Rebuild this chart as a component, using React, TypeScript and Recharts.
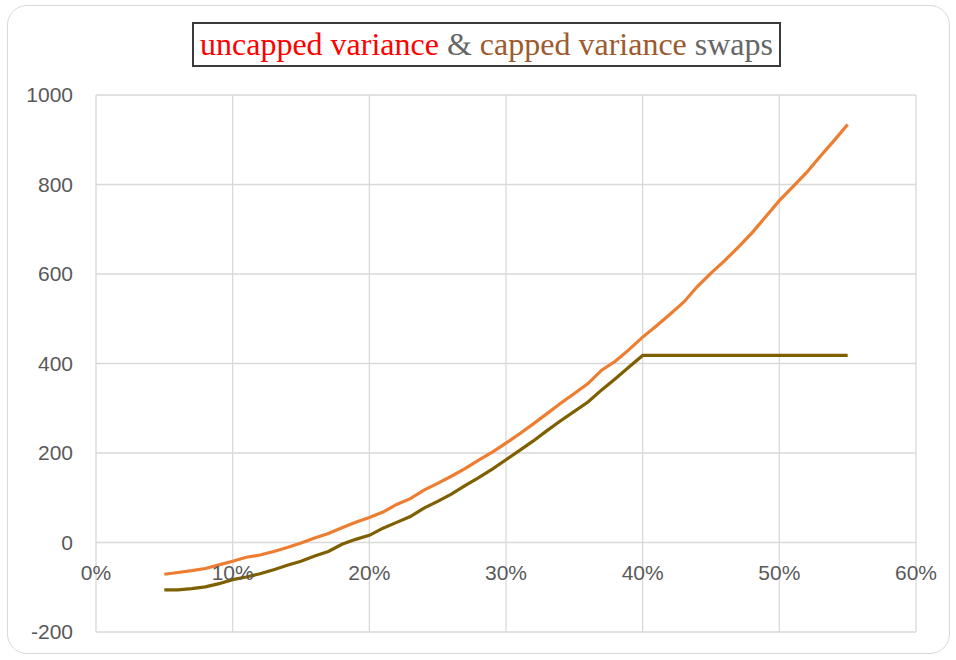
import React from 'react';
import { LineChart, Line, XAxis, YAxis, CartesianGrid, ReferenceDot } from 'recharts';

const volatility = [5, 6, 7, 8, 9, 10, 11, 12, 13, 14, 15, 16, 17, 18, 19, 20, 21, 22, 23, 24, 25, 26, 27, 28, 29, 30, 31, 32, 33, 34, 35, 36, 37, 38, 39, 40, 41, 42, 43, 44, 45, 46, 47, 48, 49, 50, 51, 52, 53, 54, 55];

const uncappedVariance = [-71, -67, -63, -58, -50, -42, -33, -28, -20, -11, -1, 10, 20, 33, 45, 56, 68, 85, 98, 117, 132, 148, 165, 184, 202, 222, 243, 265, 288, 311, 333, 355, 385, 405, 431, 459, 484, 510, 537, 572, 602, 630, 660, 692, 728, 764, 795, 827, 863, 898, 934];

const cappedVariance = [-106, -106, -103, -99, -92, -83, -77, -70, -61, -51, -42, -30, -20, -4, 7, 16, 32, 45, 58, 77, 92, 108, 127, 145, 164, 185, 206, 227, 250, 272, 293, 314, 341, 366, 392, 418, 418, 418, 418, 418, 418, 418, 418, 418, 418, 418, 418, 418, 418, 418, 418];

const xTicks = [0, 10, 20, 30, 40, 50, 60];
const yTicks = [-200, 0, 200, 400, 600, 800, 1000];
const X_MIN = 0;
const X_MAX = 60;

const data = volatility.map((v, i) => ({
  vol: v,
  uncapped: uncappedVariance[i],
  capped: cappedVariance[i],
}));

const AXIS_COLOR = '#595959';

const verticalGen = (props: any) => {
  const off = props.offset;
  return xTicks.map((t) => off.left + (off.width * (t - X_MIN)) / (X_MAX - X_MIN));
};

export default function App() {
  return (
    <div style={{ position: 'absolute', left: 0, top: 0, width: 956, height: 660, background: '#fff' }}>
      <div
        style={{
          position: 'absolute',
          left: 7,
          top: 5,
          width: 943,
          height: 649,
          border: '1.5px solid #d9d9d9',
          borderRadius: 20,
          boxSizing: 'border-box',
        }}
      />
      <div style={{ position: 'absolute', left: 0, top: 0 }}>
        <LineChart width={956} height={660} data={data} margin={{ top: 95, right: 40, bottom: 27, left: 0 }}>
          <CartesianGrid stroke="#d9d9d9" strokeWidth={1.3} verticalCoordinatesGenerator={verticalGen} />
          <XAxis
            dataKey="vol"
            type="number"
            domain={[X_MIN, X_MAX]}
            ticks={xTicks}
            axisLine={false}
            tickLine={false}
            tick={false}
            height={1}
          />
          <YAxis
            type="number"
            domain={[-200, 1000]}
            ticks={yTicks}
            width={96}
            axisLine={false}
            tickLine={false}
            tickSize={0}
            tickMargin={23}
            tick={{ fill: AXIS_COLOR, fontSize: 21, fontFamily: 'Liberation Sans, Arial, sans-serif' }}
          />
          <Line
            type="linear"
            dataKey="uncapped"
            stroke="#ed7d31"
            strokeWidth={3.2}
            dot={false}
            isAnimationActive={false}
          />
          <Line
            type="linear"
            dataKey="capped"
            stroke="#7f6000"
            strokeWidth={3.2}
            dot={false}
            isAnimationActive={false}
          />
          {xTicks.map((t) => (
            <ReferenceDot
              key={t}
              x={t}
              y={0}
              r={0}
              fill="none"
              stroke="none"
              label={{
                value: `${t}%`,
                position: 'bottom',
                offset: 23,
                fill: AXIS_COLOR,
                fontSize: 21,
                fontFamily: 'Liberation Sans, Arial, sans-serif',
              }}
            />
          ))}
        </LineChart>
      </div>
      <div
        style={{
          position: 'absolute',
          left: 192,
          top: 22,
          width: 589,
          height: 45,
          border: '2px solid #3a3a3a',
          boxSizing: 'border-box',
          display: 'flex',
          alignItems: 'center',
          justifyContent: 'center',
          fontFamily: 'Liberation Serif, Times New Roman, serif',
          fontSize: 32,
          whiteSpace: 'nowrap',
          background: '#fff',
        }}
      >
        <span style={{ color: '#ff0000' }}>uncapped variance</span>
        <span style={{ color: '#666666' }}>&nbsp;&amp;&nbsp;</span>
        <span style={{ color: '#9c5a2e' }}>capped variance</span>
        <span style={{ color: '#666666' }}>&nbsp;swaps</span>
      </div>
    </div>
  );
}
